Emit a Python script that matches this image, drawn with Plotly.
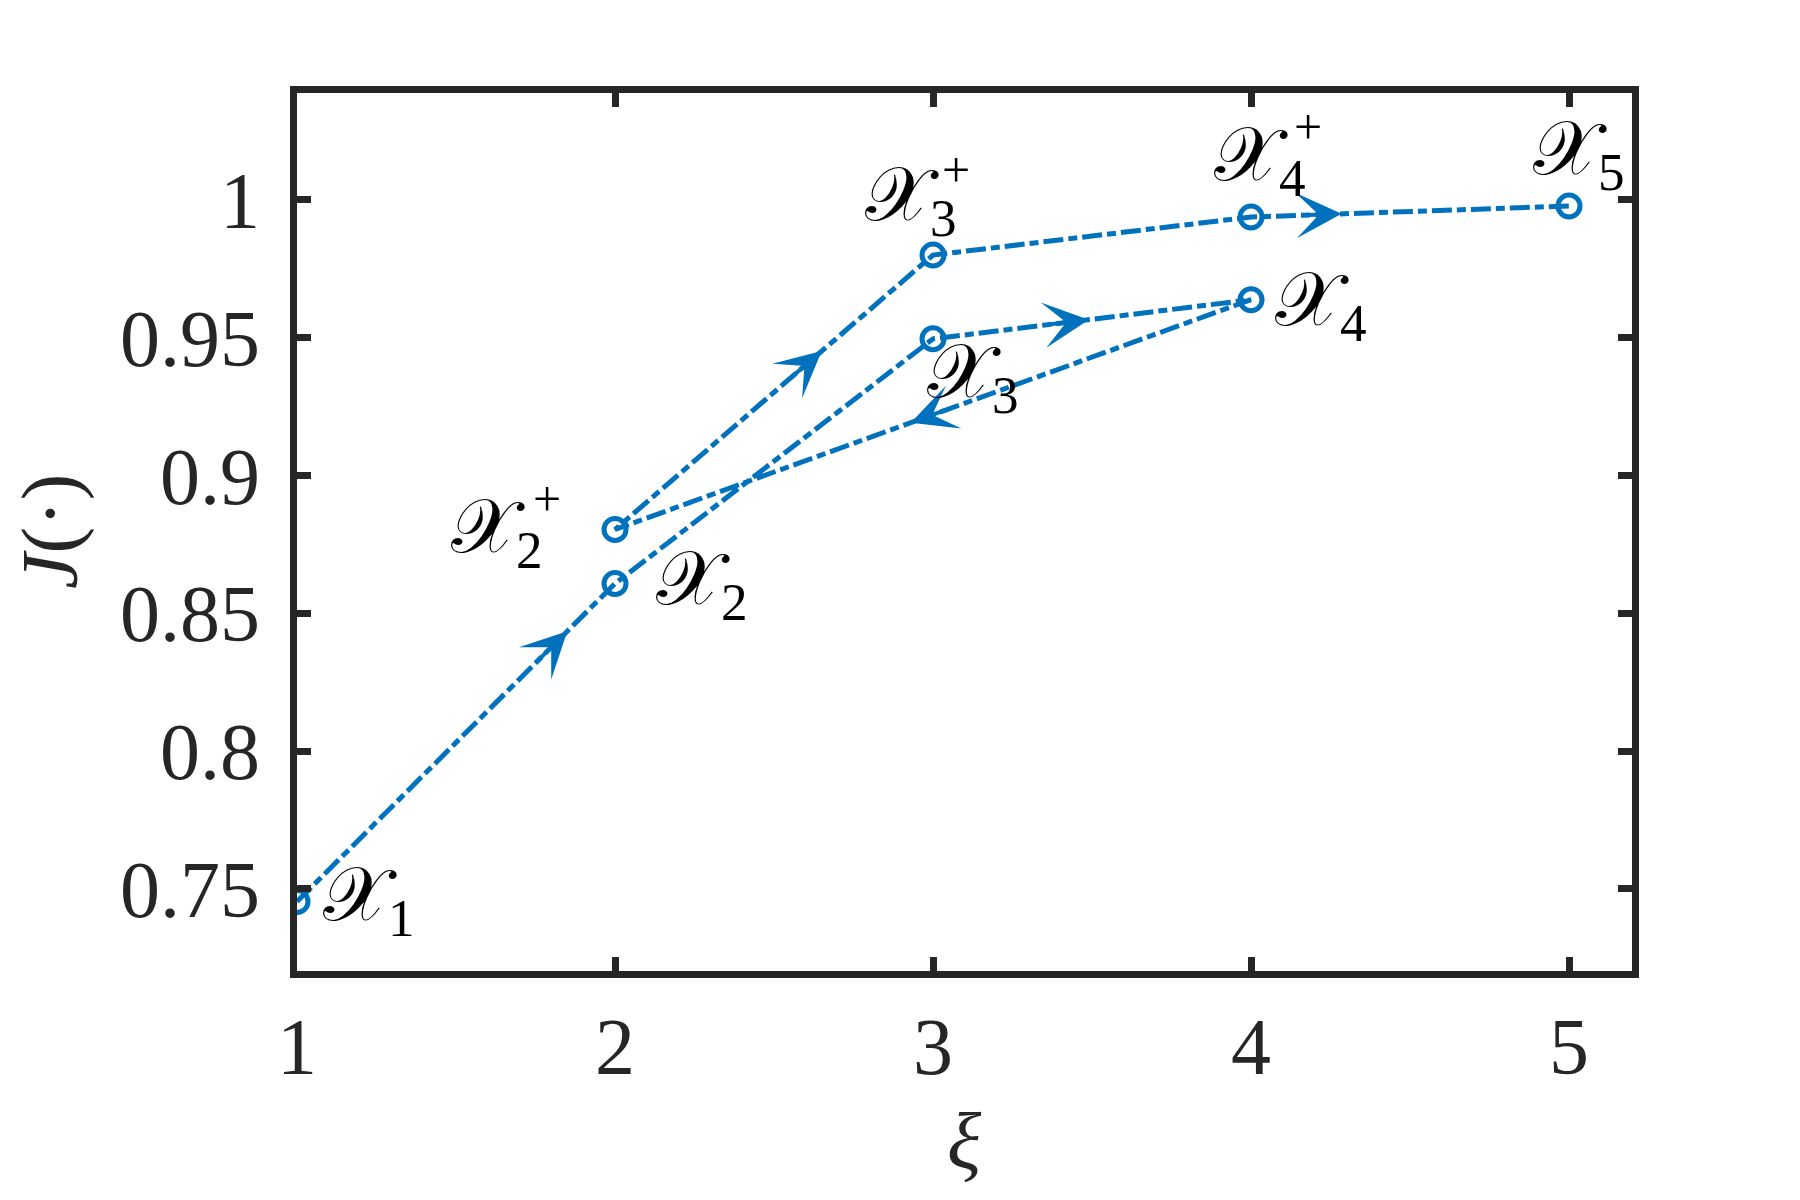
import numpy as np
import plotly.graph_objects as go

# visiting order of the search, (xi, J) per step
xi = [1, 2, 3, 4, 2, 3, 4, 5]
J = [0.7454, 0.8608, 0.9496, 0.9638, 0.8804, 0.9800, 0.9938, 0.9978]
labels = ["1", "2", "3", "4", "2", "3", "4", "5"]
plus = [False, False, False, False, True, True, True, False]

# arrow placement: segment index -> fraction along segment
arrow_seg = [0, 2, 3, 4, 6]
arrow_frac = [0.85, 0.49, 0.535, 0.65, 0.285]

# label offsets (px) from each point, same order as the path
label_dx = [72, 87, 40, 70, -118, -22, 9, 10]
label_dy = [2, 0, -38, -5, -2, 55, 57, 52]
# "+" superscript offsets (px) from the point
plus_dx = [0, 0, 0, 0, -68, 23, 57, 0]
plus_dy = [0, 0, 0, 0, 31, 85, 90, 0]

BLUE = "#0072BD"
AXC = "#262626"
FONT = "Liberation Serif"

XR = [1, 5.198]
YR = [0.7202, 1.0388]
ML, MR, MT, MB = 289, 176, 85, 237
W, H = 1800, 1200

# px per data unit, used to give each arrow a fixed tail length
sx = (W - ML - MR) / (XR[1] - XR[0])
sy = (H - MT - MB) / (YR[1] - YR[0])
TAIL = 42

fig = go.Figure()

fig.add_trace(
    go.Scatter(
        x=xi,
        y=J,
        mode="lines+markers",
        line={"color": BLUE, "width": 5, "dash": "20px,5px,9px,5px"},
        marker={"symbol": "circle-open", "size": 22, "color": BLUE, "line": {"width": 5, "color": BLUE}},
        showlegend=False,
        hoverinfo="x+y",
    )
)

# arrowheads along the path
for k, f in zip(arrow_seg, arrow_frac):
    x0, y0 = xi[k], J[k]
    x1, y1 = xi[k + 1], J[k + 1]
    hx, hy = x0 + f * (x1 - x0), y0 + f * (y1 - y0)
    seg_px = np.hypot((x1 - x0) * sx, (y1 - y0) * sy)
    g = TAIL / seg_px
    tx, ty = hx - g * (x1 - x0), hy - g * (y1 - y0)
    fig.add_annotation(
        x=hx, y=hy, ax=tx, ay=ty,
        xref="x", yref="y", axref="x", ayref="y",
        text="", showarrow=True,
        arrowhead=3, arrowsize=1.9, arrowwidth=4, arrowcolor=BLUE,
    )

# point labels
for x, y, s, p, dx, dy, pdx, pdy in zip(xi, J, labels, plus, label_dx, label_dy, plus_dx, plus_dy):
    fig.add_annotation(
        x=x, y=y, xref="x", yref="y",
        text="𝒳<sub>" + s + "</sub>", showarrow=False,
        xshift=dx, yshift=dy,
        font={"family": FONT, "size": 76, "color": "black"},
    )
    if p:
        fig.add_annotation(
            x=x, y=y, xref="x", yref="y",
            text="+", showarrow=False,
            xshift=pdx, yshift=pdy,
            font={"family": FONT, "size": 50, "color": "black"},
        )

# axis titles
fig.add_annotation(
    x=0.5, y=-0.194, xref="paper", yref="paper",
    xanchor="center", yanchor="middle",
    text="<i>ξ</i>", showarrow=False,
    font={"family": FONT, "size": 80, "color": AXC},
)
fig.add_annotation(
    x=-0.185, y=0.5, xref="paper", yref="paper",
    xanchor="center", yanchor="middle",
    text="<i>J</i>(·)", showarrow=False, textangle=-90,
    font={"family": FONT, "size": 80, "color": AXC},
)

axis_common = dict(
    showline=True, linecolor=AXC, linewidth=7, mirror="ticks",
    ticks="inside", ticklen=14, tickwidth=7, tickcolor=AXC,
    showgrid=False, zeroline=False,
    tickfont={"family": FONT, "size": 80, "color": AXC},
)

fig.update_layout(
    width=W, height=H,
    paper_bgcolor="white", plot_bgcolor="white",
    margin={"l": ML, "r": MR, "t": MT, "b": MB},
    xaxis=dict(axis_common, range=XR, tickvals=[1, 2, 3, 4, 5]),
    yaxis=dict(axis_common, range=YR, tickvals=[0.75, 0.8, 0.85, 0.9, 0.95, 1],
               ticktext=["0.75", "0.8", "0.85", "0.9", "0.95", "1"], ticklabelstandoff=14),
)

fig.write_html("out.html")
